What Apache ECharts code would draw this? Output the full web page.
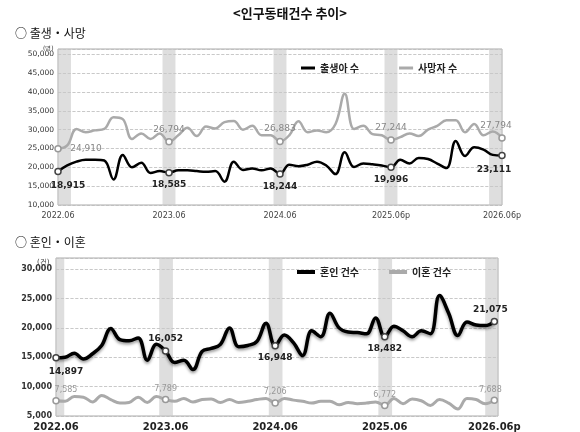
<!DOCTYPE html>
<html><head><meta charset="utf-8">
<script src="https://cdn.jsdelivr.net/npm/echarts@6/dist/echarts.min.js"></script>
<style>html,body{margin:0;padding:0;background:#fff}#c{width:580px;height:432px}</style>
</head><body><div id="c"></div>
<script>
const topTicks = ['2022.06','2023.06','2024.06','2025.06p','2026.06p'];
const botTicks = ['2022.06','2023.06','2024.06','2025.06','2026.06p'];
const births = [18915,20500,21500,22000,22000,21800,16800,23300,20000,21200,18500,19000,18585,19200,19200,19000,18800,19000,16200,21500,19300,19700,19200,19700,18244,20700,20300,20700,21500,20500,18200,24000,20100,21000,20800,20500,19996,22000,21000,22500,22200,21000,19800,27000,23000,25300,24700,23300,23111];
const deaths = [24910,25800,30200,29300,29800,30200,33300,32800,27500,29000,27500,29000,26794,28500,30500,28300,30800,30300,32000,32300,30000,31000,28500,28500,26883,28500,32200,29300,29800,29300,31500,39500,30200,31000,28800,28500,27244,28000,29000,28300,30000,31000,32500,32500,29300,31500,28500,29500,27794];
const marriages = [14897,15000,15700,14700,15600,17000,19900,18000,17800,18300,14500,17200,16052,14100,14500,12900,16000,16500,17200,20000,16800,17000,17700,20800,16948,18800,17500,15300,19500,18500,22500,20000,19300,19200,19000,21700,18482,20300,19500,18500,19500,19000,25500,22500,18700,21000,20500,20400,21075];
const divorces = [7585,7500,8300,8200,7400,8500,7800,7200,7300,8200,7300,8300,7789,7500,8000,7400,7800,7900,7300,7800,7300,7500,7800,8000,7206,8000,7700,7500,7200,7500,7500,6900,7300,7100,7200,7400,6772,8000,7100,7900,7600,6800,7800,7200,6200,8000,7800,7100,7688];
const marked = [0,12,24,36,48];

function pts(arr, color, pos, above, firstOff, lastOff){
  return arr.map((v,i)=>{
    const m = marked.includes(i);
    const o = {value:[i,v], symbol: m?'circle':'none', symbolSize:6};
    if(m){
      o.itemStyle={color:'#fff',borderColor:color==='#000'?'#444':'#999',borderWidth:1.5};
      o.label={show:true,position:(above&&above.includes(i))?'top':pos,formatter:p=>p.value[1].toLocaleString('en-US')};
      if(i===0) o.label.offset=firstOff;
      if(i===48) o.label.offset=lastOff;
    }
    return o;
  });
}
const bandsTop = [[0,1.4],[11.3,12.7],[23.3,24.7],[35.3,36.7],[46.6,48]].map(b=>[{xAxis:b[0]},{xAxis:b[1]}]);
const bandsBot = [[0,0.9],[11.3,12.8],[23.3,24.8],[35.3,36.8],[47,48.4]].map(b=>[{xAxis:b[0]},{xAxis:b[1]}]);
const font = 'DejaVu Sans';
const chart = echarts.init(document.getElementById('c'));
function xAx(idx, ticks, max, bold){
  return {type:'value',gridIndex:idx,min:0,max:max,interval:12,
    axisLine:{show:false},axisTick:{show:false},splitLine:{show:false},
    axisLabel:{formatter:v=>ticks[v/12]||'',color:bold?'#222':'#444',fontSize:bold?10:8,fontWeight:bold?'bold':'normal',fontFamily:font,margin:bold?6:7}};
}
function yAx(idx,min,max,bold){
  return {type:'value',gridIndex:idx,min:min,max:max,interval:5000,
    axisLine:{show:false},axisTick:{show:false},
    splitLine:{lineStyle:{color:'#bbb',type:'dashed',width:0.8}},
    axisLabel:{showMaxLabel:false,formatter:v=>v.toLocaleString('en-US'),color:'#333',fontSize:bold?8:7.5,fontFamily:font,margin:4,
      fontWeight:bold?'bold':'normal'}};
}
chart.setOption({
  animation:false,
  textStyle:{fontFamily:font},
  title:[
    {text:'<인구동태건수 추이>',left:'center',top:2,textStyle:{fontSize:13,fontWeight:'bold',color:'#111',fontFamily:'Noto Sans CJK KR'}},
    {text:'○ 출생・사망',left:10,top:22,textStyle:{fontSize:12,fontWeight:'normal',color:'#111',fontFamily:'Noto Sans CJK KR'}},
    {text:'○ 혼인・이혼',left:10,top:231,textStyle:{fontSize:12,fontWeight:'normal',color:'#111',fontFamily:'Noto Sans CJK KR'}},
    {text:'(명)',left:38,top:40,textStyle:{fontSize:6,fontWeight:'normal',color:'#333'}},
    {text:'(건)',left:32,top:254,textStyle:{fontSize:7,fontWeight:'normal',color:'#333'}}
  ],
  legend:[
    {data:['출생아 수','사망자 수'],top:58,left:296,icon:'rect',itemWidth:14,itemHeight:3,itemGap:40,
      textStyle:{fontSize:10,fontWeight:'bold',color:'#222',fontFamily:'Noto Sans CJK KR'}},
    {data:['혼인 건수','이혼 건수'],top:262,left:292,icon:'rect',itemWidth:18,itemHeight:4,itemGap:30,
      textStyle:{fontSize:10,fontWeight:'bold',color:'#222',fontFamily:'Noto Sans CJK KR'}}
  ],
  grid:[
    {left:58,right:78,top:49,bottom:227,show:true,borderColor:'#aaa',borderWidth:1},
    {left:56,right:82,top:258,bottom:13,show:true,borderColor:'#aaa',borderWidth:1}
  ],
  xAxis:[xAx(0,topTicks,48,false),xAx(1,botTicks,48.4,true)],
  yAxis:[yAx(0,10000,51400,false),yAx(1,5000,31900,true)],
  series:[
    {name:'출생아 수',type:'line',xAxisIndex:0,yAxisIndex:0,smooth:0.4,data:pts(births,'#000','bottom',null,[10,2],[-8,2]),
      lineStyle:{color:'#000',width:2.5},itemStyle:{color:'#000'},
      label:{fontSize:9,fontWeight:'bold',color:'#222',distance:4},
      markArea:{silent:true,itemStyle:{color:'rgba(200,200,200,0.6)'},data:bandsTop},z:3},
    {name:'사망자 수',type:'line',xAxisIndex:0,yAxisIndex:0,smooth:0.4,data:pts(deaths,'#aaa','top',null,[28,12],[-6,0]),
      lineStyle:{color:'#aaa',width:2.5},itemStyle:{color:'#aaa'},
      label:{fontSize:9,color:'#888',distance:4},z:2},
    {name:'혼인 건수',type:'line',xAxisIndex:1,yAxisIndex:1,smooth:0.4,data:pts(marriages,'#000','bottom',[12,48],[10,2],[-4,0]),
      lineStyle:{color:'#000',width:3.5,shadowColor:'rgba(0,0,0,0.4)',shadowBlur:3,shadowOffsetY:2},itemStyle:{color:'#000'},
      label:{fontSize:9,fontWeight:'bold',color:'#222',distance:4},
      markArea:{silent:true,itemStyle:{color:'rgba(200,200,200,0.6)'},data:bandsBot},z:3},
    {name:'이혼 건수',type:'line',xAxisIndex:1,yAxisIndex:1,smooth:0.4,data:pts(divorces,'#aaa','top',null,[10,0],[-4,0]),
      lineStyle:{color:'#aaa',width:3},itemStyle:{color:'#aaa'},
      label:{fontSize:8,color:'#999',distance:3},z:2}
  ]
});
</script></body></html>
